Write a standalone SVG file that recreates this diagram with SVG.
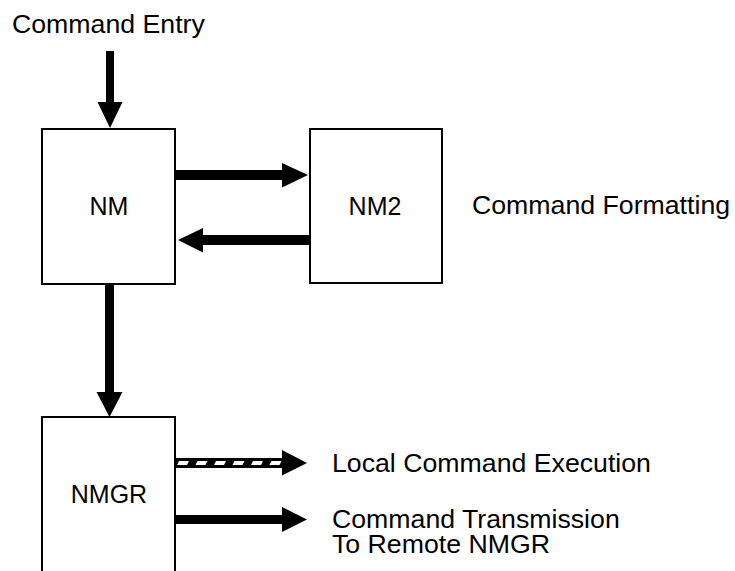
<svg xmlns="http://www.w3.org/2000/svg" width="735" height="571" viewBox="0 0 735 571">
  <style>
    .lbl { font-family: "Liberation Sans", Arial, Helvetica, sans-serif; font-size: 26.7px; fill: #000; }
    .box { fill: #fff; stroke: #000; stroke-width: 2; }
    .name { font-family: "Liberation Sans", Arial, Helvetica, sans-serif; font-size: 25px; fill: #000; text-anchor: middle; }
    .arr { fill: #000; }
    .dash { fill: #fff; }
  </style>
  <rect width="735" height="571" fill="#fff"/>

  <text class="lbl" x="12" y="33">Command Entry</text>
  <text class="lbl" x="472" y="214">Command Formatting</text>
  <text class="lbl" x="332" y="472">Local Command Execution</text>
  <text class="lbl" x="332" y="528">Command Transmission<tspan x="332" y="553">To Remote NMGR</tspan></text>

  <g id="nm">
    <rect class="box" x="42" y="129" width="133" height="155"/>
    <text class="name" x="109" y="215">NM</text>
  </g>
  <g id="nm2">
    <rect class="box" x="310" y="129" width="132" height="154"/>
    <text class="name" x="375" y="215">NM2</text>
  </g>
  <g id="nmgr">
    <rect class="box" x="42" y="417" width="133" height="200"/>
    <text class="name" x="109" y="503">NMGR</text>
  </g>

  <g id="connectors">
    <!-- entry arrow into NM -->
    <polygon class="arr" points="106,51 114,51 114,102 122.5,102 110,128 97.5,102 106,102"/>
    <!-- NM to NM2 -->
    <polygon class="arr" points="176,170 282,170 282,163 308,175 282,187.5 282,180 176,180"/>
    <!-- NM2 back to NM -->
    <polygon class="arr" points="309,235 203,235 203,228 178,240 203,252.5 203,245 309,245"/>
    <!-- NM down to NMGR -->
    <polygon class="arr" points="105,285 114,285 114,392 122.5,392 109.5,417 96.5,392 105,392"/>
    <!-- local execution: hatched shaft -->
    <polygon class="arr" points="176,458 282,458 282,450 307,463 282,475.5 282,468 176,468"/>
    <g id="hatch">
      <polygon class="dash" points="179,461 189,461 187,465 177,465"/>
      <polygon class="dash" points="197.5,461 207.5,461 205.5,465 195.5,465"/>
      <polygon class="dash" points="216,461 226,461 224,465 214,465"/>
      <polygon class="dash" points="234.5,461 244.5,461 242.5,465 232.5,465"/>
      <polygon class="dash" points="253,461 263,461 261,465 251,465"/>
      <polygon class="dash" points="271.5,461 281.5,461 279.5,465 269.5,465"/>
    </g>
    <!-- remote transmission -->
    <polygon class="arr" points="176,515 282,515 282,507 307,519.5 282,532 282,524 176,524"/>
  </g>
</svg>
